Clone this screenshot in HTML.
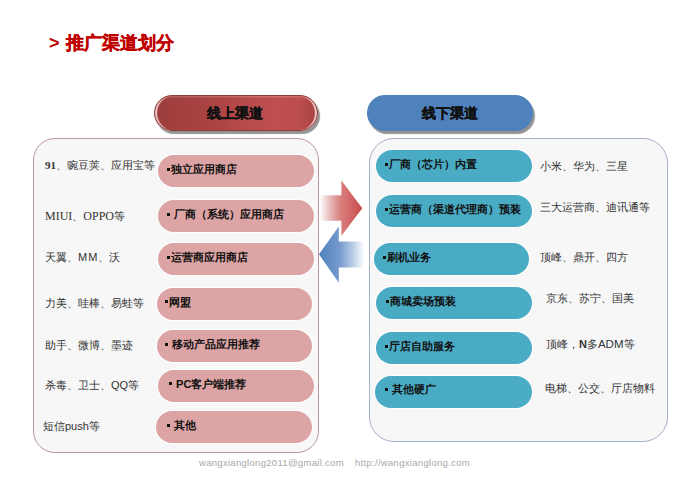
<!DOCTYPE html>
<html><head><meta charset="utf-8">
<style>
*{margin:0;padding:0;box-sizing:border-box}
html,body{width:690px;height:485px;background:#fff;overflow:hidden}
body{position:relative;font-family:"Liberation Sans",sans-serif;color:#222}
.a{position:absolute;white-space:nowrap}
.title{left:49px;top:31px;font-size:18px;font-weight:bold;color:#c00000;line-height:24px}
.hp{position:absolute;height:35.5px;border-radius:18px;font-size:14px;font-weight:bold;color:#111;text-align:center;line-height:36px;-webkit-text-stroke:0.35px #111}
.hred{left:154px;top:95px;width:164px;border:1px solid #8e3838;background:linear-gradient(90deg,#9c3c3c 0%,#a34040 15%,#ab4444 35%,#b64a4a 55%,#c05050 75%,#bc4d4d 90%,#a44242 100%);box-shadow:2px 3px 1px #939393, inset 3px 0 1px -1px rgba(255,225,225,.9), inset -3px 0 1px -1px rgba(255,225,225,.9), inset 0 2px 2px -1px rgba(255,200,200,.35)}
.hblue{left:367px;top:95px;width:166px;background:#4f81bd;box-shadow:2px 3px 1px #939393}
.box{position:absolute}
.lbox{left:33px;top:138px;width:286px;height:315px;border:1px solid #ba979b;border-radius:22px;background:#f7f7f7}
.rbox{left:369px;top:138px;width:299px;height:304px;border:1px solid #a3b1c9;border-radius:25px;background:#f7f7f8}
.pp{position:absolute;height:32px;border-radius:16px;background:#dca4a4;box-shadow:0 0 1px 1px #fff;font-size:11px;font-weight:bold;color:#111;line-height:28px;white-space:nowrap}
.bp{position:absolute;height:32px;border-radius:16px;background:#4aabc5;box-shadow:0 0 1px 1px #fff;font-size:11px;font-weight:bold;color:#111;line-height:28px;white-space:nowrap}
.b{display:inline-block;width:3px;height:3px;background:#111;vertical-align:middle;margin-right:1px;position:relative;top:-1px}
.lb{position:absolute;font-size:11px;color:#333;white-space:nowrap;line-height:14px}
.ft{position:absolute;top:457px;font-size:9.5px;color:#a8a8a8;white-space:nowrap;letter-spacing:0.3px}
</style></head><body>
<div class="a title">&gt;<span style="margin-left:6px;-webkit-text-stroke:0.4px #c00000">推广渠道划分</span></div>

<div class="hp hred" style="padding-right:3px;line-height:34px">线上渠道</div>
<div class="hp hblue">线下渠道</div>

<div class="box lbox"></div>
<div class="box rbox"></div>

<!-- arrows -->
<svg class="a" style="left:316px;top:176px" width="52" height="112" viewBox="316 176 52 112">
<defs>
<linearGradient id="gr" x1="320" y1="0" x2="362" y2="0" gradientUnits="userSpaceOnUse">
<stop offset="0" stop-color="#c0504d" stop-opacity="0"/>
<stop offset="0.5" stop-color="#d46c6c" stop-opacity="0.88"/>
<stop offset="1" stop-color="#c84a4a"/>
</linearGradient>
<linearGradient id="gb" x1="319" y1="0" x2="364" y2="0" gradientUnits="userSpaceOnUse">
<stop offset="0" stop-color="#4f81bd"/>
<stop offset="0.45" stop-color="#6990c8" stop-opacity="0.92"/>
<stop offset="1" stop-color="#4f81bd" stop-opacity="0"/>
</linearGradient>
</defs>
<path d="M320 195.3 L341.4 195.3 L341.4 180.4 L362.3 208.2 L341.4 235.7 L341.4 220.8 L320 220.8 Z" fill="url(#gr)"/>
<path d="M364 241.6 L338.8 241.6 L338.8 226.5 L319 254.3 L338.8 282.8 L338.8 267.6 L364 267.6 Z" fill="url(#gb)"/>
</svg>

<!-- left pink pills -->
<div class="pp" style="left:158px;top:155px;width:156px;padding-left:9px"><span class="b"></span>独立应用商店</div>
<div class="pp" style="left:158px;top:200px;width:156px;padding-left:9px"><span class="b"></span> 厂商（系统）应用商店</div>
<div class="pp" style="left:158px;top:243px;width:156px;padding-left:9px"><span class="b"></span>运营商应用商店</div>
<div class="pp" style="left:157px;top:287.5px;width:155px;padding-left:8px"><span class="b"></span>网盟</div>
<div class="pp" style="left:156.5px;top:330px;width:155.5px;padding-left:8.5px"><span class="b"></span> 移动产品应用推荐</div>
<div class="pp" style="left:157.5px;top:369.5px;width:156px;padding-left:11.5px"><span class="b"></span> PC客户端推荐</div>
<div class="pp" style="left:156px;top:411px;width:156px;padding-left:11px"><span class="b"></span> 其他</div>

<!-- right blue pills -->
<div class="bp" style="left:376px;top:150px;width:156px;padding-left:9px"><span class="b"></span>厂商（芯片）内置</div>
<div class="bp" style="left:376px;top:195px;width:156px;padding-left:9px"><span class="b"></span>运营商（渠道代理商）预装</div>
<div class="bp" style="left:374px;top:243px;width:155px;padding-left:9px"><span class="b"></span>刷机业务</div>
<div class="bp" style="left:376px;top:287px;width:156px;padding-left:10px"><span class="b"></span>商城卖场预装</div>
<div class="bp" style="left:376px;top:332px;width:156px;padding-left:9px"><span class="b"></span>厅店自助服务</div>
<div class="bp" style="left:375px;top:376px;width:157px;padding-left:10px;line-height:27px"><span class="b"></span> 其他硬广</div>

<!-- left labels -->
<div class="lb" style="left:45px;top:158px"><b style="font-family:'Liberation Serif',serif">91</b>、豌豆荚、应用宝等</div>
<div class="lb" style="left:45px;top:209px"><span style="font-family:'Liberation Serif',serif;font-size:12px">MIUI</span>、<span style="font-family:'Liberation Serif',serif;font-size:12px">OPPO</span>等</div>
<div class="lb" style="left:45px;top:250px">天翼、<span style="letter-spacing:1px">MM</span>、沃</div>
<div class="lb" style="left:45px;top:296px">力美、哇棒、易蛙等</div>
<div class="lb" style="left:45px;top:338px">助手、微博、墨迹</div>
<div class="lb" style="left:45px;top:378px">杀毒、卫士、QQ等</div>
<div class="lb" style="left:43px;top:419px">短信push等</div>

<!-- right labels -->
<div class="lb" style="left:540px;top:159px">小米、华为、三星</div>
<div class="lb" style="left:540px;top:200px">三大运营商、迪讯通等</div>
<div class="lb" style="left:540px;top:250px">顶峰、鼎开、四方</div>
<div class="lb" style="left:546px;top:291px">京东、苏宁、国美</div>
<div class="lb" style="left:546px;top:337px">顶峰，<b>N</b>多<span style="font-size:11.5px">ADM</span>等</div>
<div class="lb" style="left:545px;top:381px">电梯、公交、厅店物料</div>

<div class="ft" style="left:199px">wangxianglong2011@gmail.com</div>
<div class="ft" style="left:355px">http://wangxianglong.com</div>
</body></html>
